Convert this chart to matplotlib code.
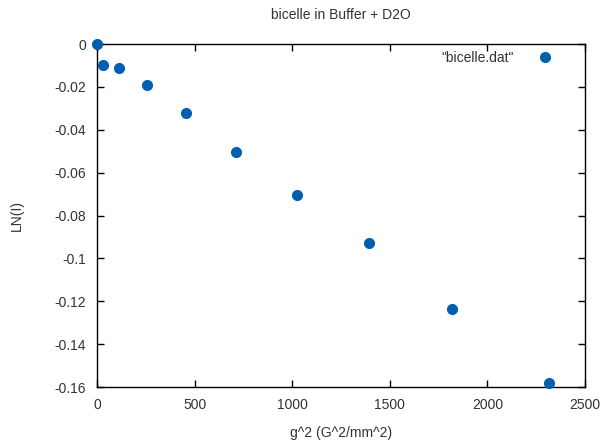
import matplotlib
matplotlib.use("Agg")
import matplotlib.pyplot as plt

# data
g2 = [0, 28.4, 113.8, 256, 455, 711, 1024, 1394, 1820, 2314]
ln_i = [0, -0.0098, -0.0113, -0.0191, -0.0321, -0.0502, -0.0703, -0.0927, -0.1238, -0.1580]

x_ticks = [0, 500, 1000, 1500, 2000, 2500]
y_ticks = [0, -0.02, -0.04, -0.06, -0.08, -0.1, -0.12, -0.14, -0.16]
y_labels = ["0", "-0.02", "-0.04", "-0.06", "-0.08", "-0.1", "-0.12", "-0.14", "-0.16"]

plt.rcParams["font.family"] = ["Liberation Sans", "DejaVu Sans"]
plt.rcParams["font.size"] = 10
TEXT = "#333333"

fig = plt.figure(figsize=(6.03, 4.45), dpi=100)
ax = fig.add_axes([0.1609, 0.1303, 0.9701 - 0.1609, 0.9011 - 0.1303])

ax.plot(g2, ln_i, linestyle="none", marker="o", markersize=7,
        color="#0060ad", label='"bicelle.dat"', clip_on=False, zorder=3)

ax.set_xlim(0, 2500)
ax.set_ylim(-0.16, 0)
ax.set_xticks(x_ticks)
ax.set_yticks(y_ticks)
ax.set_yticklabels(y_labels)
ax.tick_params(direction="in", length=5, width=1, top=True, right=True,
               labelcolor=TEXT, labelsize=10, pad=8)
for sp in ax.spines.values():
    sp.set_linewidth(1)
    sp.set_color("black")

ax.set_title("bicelle in Buffer + D2O", color=TEXT, fontsize=10, pad=18)
ax.set_xlabel("g^2 (G^2/mm^2)", color=TEXT, labelpad=10)
ax.set_ylabel("LN(I)", color=TEXT, labelpad=22)

ax.legend(loc="upper right", bbox_to_anchor=(0.95, 1.003), markerfirst=False,
          frameon=False, handlelength=1.0, handletextpad=1.8, borderaxespad=0.2,
          labelcolor=TEXT, fontsize=10)

fig.savefig("out.png", dpi=100)
